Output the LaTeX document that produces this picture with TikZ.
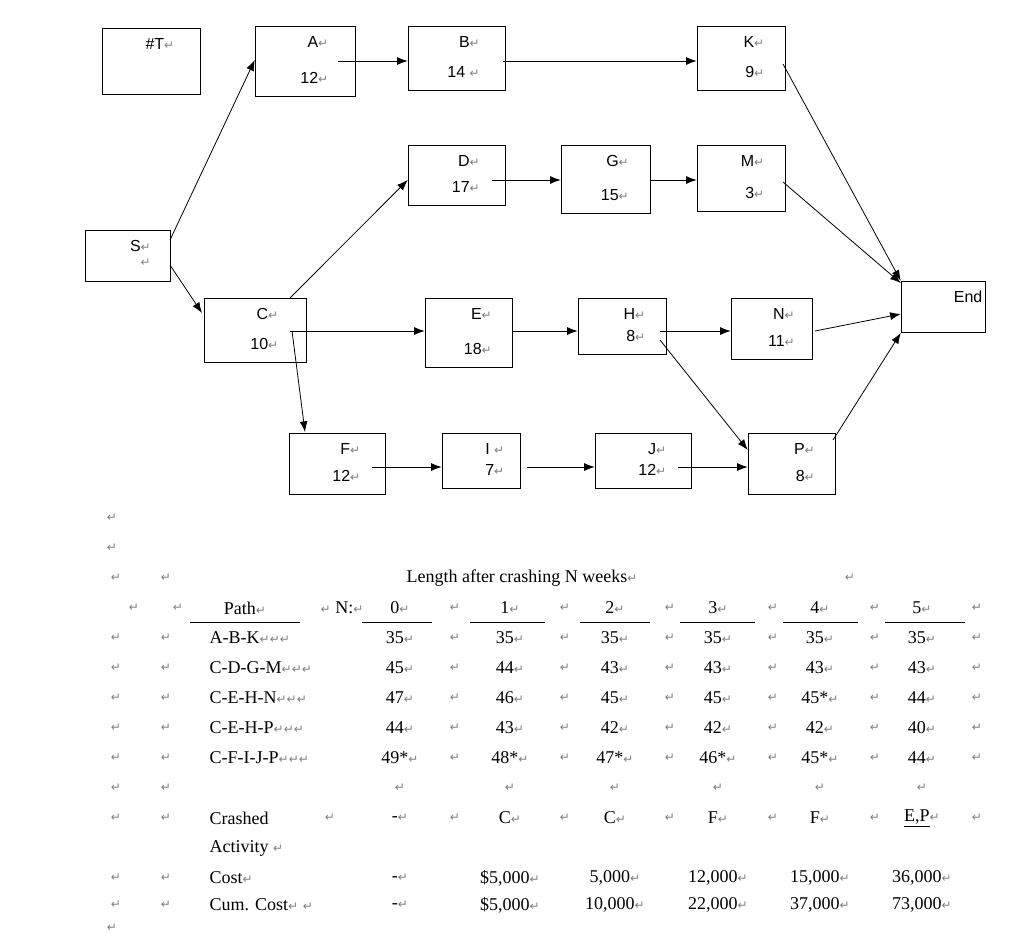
\documentclass[tikz,border=0pt]{standalone}
\usepackage{fontspec}
\setmainfont{Liberation Serif}
\newfontfamily\boxfont{Liberation Sans}
\newfontfamily\markfont{DejaVu Sans}
\usetikzlibrary{positioning,arrows.meta}
\newcommand{\rt}{{\markfont\color{gray}\fontsize{9}{10}\selectfont\char"21B5}}
\begin{document}
\begin{tikzpicture}[x=0.75pt,y=-0.75pt,>={Latex[length=8pt,width=6pt]}]
    \tikzset{
        lbl/.style={font=\boxfont\fontsize{12}{14}\selectfont, anchor=east},
        cell/.style={font=\fontsize{13.5}{16}\selectfont},
        mk/.style={font=\fontsize{13.5}{16}\selectfont},
        link/.style={->, semithick}
    }
    \useasboundingbox (0,0) rectangle (1024,950);

    % activity boxes
    \newcommand{\act}[7]{%
        \draw (#2,#4) rectangle (#3,#5);
        \node[minimum width={(#3-#2)*0.75pt}, minimum height={(#5-#4)*0.75pt}, inner sep=0pt] (#1) at ({(#2+#3)/2},{(#4+#5)/2}) {};
        \node[lbl] at ({(#2+#3)/2+28},{#4+16}) {#6\rt};
        \node[lbl] at ({(#2+#3)/2+28},{#5-18}) {#7\rt};
    }
    \draw (102,28) rectangle (200,94);
    \node[minimum width={98*0.75pt}, minimum height={66*0.75pt}, inner sep=0pt] (T) at (151,61) {};
    \node[lbl] at (179,44) {\#T\rt};
    \act{A}{255}{355}{26}{96}{A}{12}
    \act{B}{408}{505}{26}{90}{B}{14 }
    \act{K}{697}{785}{26}{90}{K}{9}
    \act{D}{408}{505}{145}{205}{D}{17}
    \act{G}{561}{650}{145}{213}{G}{15}
    \act{M}{697}{785}{145}{211}{M}{3}
    \act{S}{85}{170}{230}{281}{S}{}
    \act{C}{204}{306}{298}{362}{C}{10}
    \act{E}{425}{512}{298}{367}{E}{18}
    \act{H}{578}{666}{298}{354}{H}{8}
    \act{N}{731}{812}{298}{359}{N}{11}
    \act{F}{289}{385}{433}{494}{F}{12}
    \act{I}{442}{520}{433}{488}{I }{7}
    \act{J}{595}{691}{433}{488}{J}{12}
    \act{P}{748}{835}{433}{494}{P}{8}
    \draw (901,281) rectangle (985,332);
    \node[minimum width={84*0.75pt}, minimum height={51*0.75pt}, inner sep=0pt] (End) at (943,306.5) {};
    \node[lbl] at (987,297) {End};

    % links
    \coordinate (a1) at (338,61);   \draw[link] (a1) -- (B.west |- a1);
    \coordinate (b1) at (503,61);   \draw[link] (b1) -- (K.west |- b1);
    \coordinate (s1) at (170,240);  \draw[link] (s1) -- (A.west |- 0,60);
    \coordinate (s2) at (170,265);  \draw[link] (s2) -- (202,313);
    \coordinate (c1) at (290,298);  \draw[link] (c1) -- (D.west |- 0,180);
    \coordinate (c2) at (290,331);  \draw[link] (c2) -- (E.west |- c2);
    \coordinate (c3) at (292,331);  \draw[link] (c3) -- (305,432);
    \coordinate (d1) at (492,180);  \draw[link] (d1) -- (G.west |- d1);
    \coordinate (g1) at (650,180);  \draw[link] (g1) -- (M.west |- g1);
    \coordinate (k1) at (783,64);   \draw[link] (k1) -- (End.north west);
    \coordinate (m1) at (783,182);  \draw[link] (m1) -- (End.west |- 0,283);
    \coordinate (e1) at (512,331);  \draw[link] (e1) -- (H.west |- e1);
    \coordinate (h1) at (660,331);  \draw[link] (h1) -- (N.west |- h1);
    \coordinate (n1) at (815,331);  \draw[link] (n1) -- (End.west |- 0,314);
    \coordinate (h2) at (660,340);  \draw[link] (h2) -- (P.west |- 0,450);
    \coordinate (f1) at (372,467);  \draw[link] (f1) -- (I.west |- f1);
    \coordinate (i1) at (527,467);  \draw[link] (i1) -- (J.west |- i1);
    \coordinate (j1) at (678,467);  \draw[link] (j1) -- (P.west |- j1);
    \coordinate (p1) at (833,440);  \draw[link] (p1) -- (End.west |- 0,333);

    % table
    \foreach \y in {518,548,928} \node[mk] at (112,\y) {\rt};
    \foreach \y in {578,638,668,698,728,758,788,818,878,905} {
        \node[mk] at (116,\y) {\rt}; \node[mk] at (166,\y) {\rt};
    }
    \node[mk] at (134,608) {\rt}; \node[mk] at (178,608) {\rt};
    \node[cell] (title) at (522,578) {Length after crashing N weeks\rt};
    \node[mk] at (850,578) {\rt};
    \node[cell] at (245,608) {Path\rt};
    \node[cell] at (342,608) {\rt\ N:\rt};
    \foreach \x/\n in {400/0,510/1,615/2,718/3,820/4,922/5} {
        \node[cell] at (\x,608) {\n\rt};
        \node[mk] at (\x+55,608) {\rt};
    }
    \foreach \a/\b in {190/300,362/432,470/545,580/650,680/755,783/858,885/965}
        \draw (\a,622) -- (\b,622);
    \foreach \p/\y/\v in {A-B-K/638/{35,35,35,35,35,35},
                          C-D-G-M/668/{45,44,43,43,43,43},
                          C-E-H-N/698/{47,46,45,45,45*,44},
                          C-E-H-P/728/{44,43,42,42,42,40},
                          C-F-I-J-P/758/{49*,48*,47*,46*,45*,44}} {
        \node[cell, anchor=west] at (205,\y) {\p\rt\rt\rt};
        \foreach \x [count=\i] in {400,510,615,718,820,922} {
            \foreach \w [count=\j] in \v {
                \ifnum\i=\j \node[cell] at (\x,\y) {\w\rt}; \fi
            }
            \node[mk] at (\x+55,\y) {\rt};
        }
    }
    \foreach \x in {400,510,615,718,820,922} \node[mk] at (\x,788) {\rt};
    \node[cell, anchor=west] at (205,818) {Crashed};
    \node[cell, anchor=west] at (205,848) {Activity \rt};
    \node[mk] at (330,818) {\rt};
    \foreach \x/\w in {400/-,510/C,615/C,718/F,820/F,922/{\underline{E,P}}} {
        \node[cell] at (\x,818) {\w\rt};
        \node[mk] at (\x+55,818) {\rt};
    }
    \node[cell, anchor=west] at (205,878) {Cost\rt};
    \node[cell, anchor=west] at (205,905) {Cum. Cost\rt\ \rt};
    \foreach \x/\c/\u in {400/-/-,510/\$5{,}000/\$5{,}000,615/5{,}000/10{,}000,
                          718/12{,}000/22{,}000,820/15{,}000/37{,}000,922/36{,}000/73{,}000} {
        \node[cell] at (\x,878) {\c\rt};
        \node[cell] at (\x,905) {\u\rt};
    }
\end{tikzpicture}
\end{document}
